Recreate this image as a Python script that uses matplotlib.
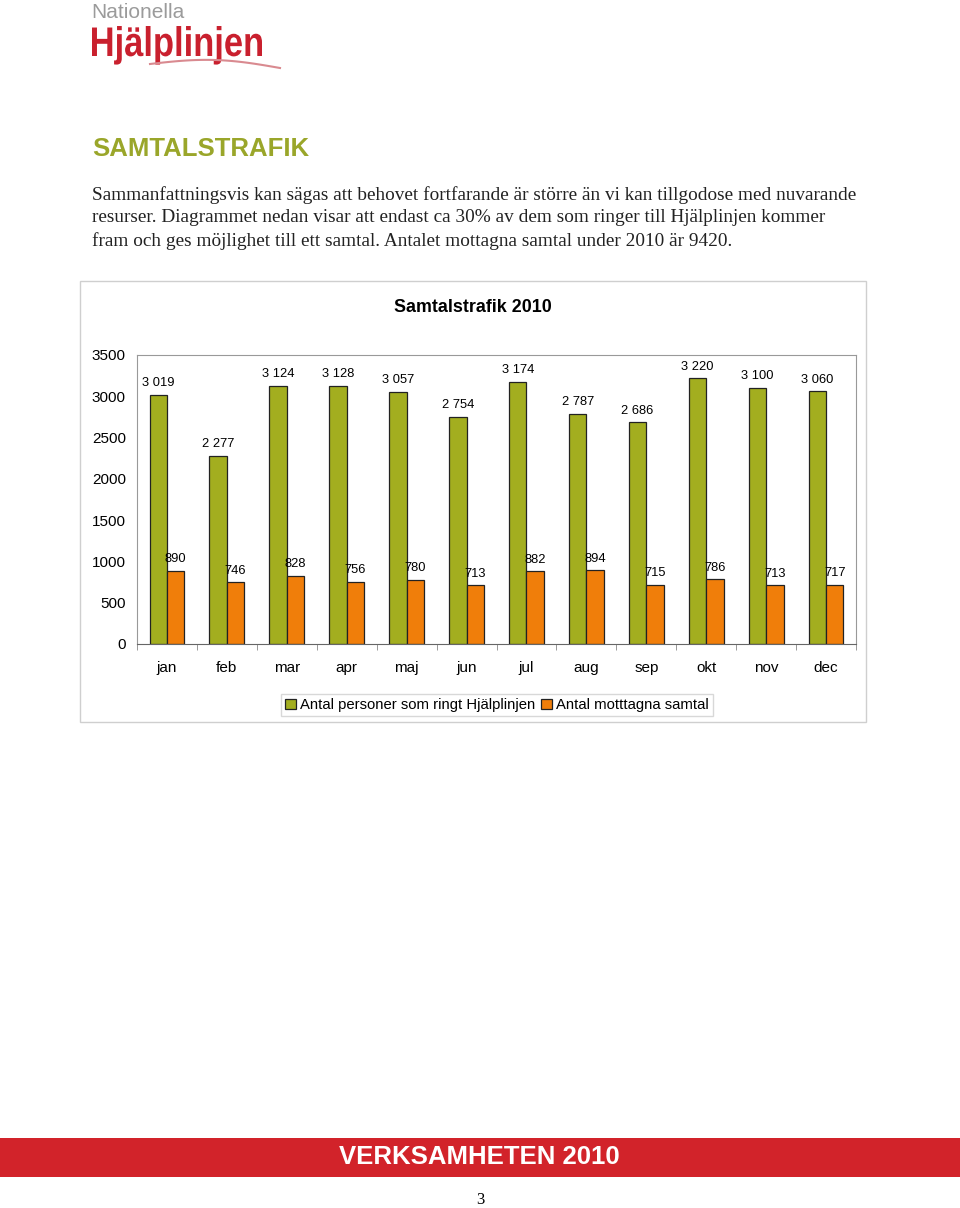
import numpy as np
import matplotlib.pyplot as plt
from matplotlib.patches import Rectangle, PathPatch
from matplotlib.textpath import TextPath
from matplotlib.font_manager import FontProperties
from matplotlib.transforms import Affine2D

# Data
months = ['jan', 'feb', 'mar', 'apr', 'maj', 'jun', 'jul', 'aug', 'sep', 'okt', 'nov', 'dec']
calls = [3019, 2277, 3124, 3128, 3057, 2754, 3174, 2787, 2686, 3220, 3100, 3060]
answered = [890, 746, 828, 756, 780, 713, 882, 894, 715, 786, 713, 717]
series_names = ['Antal personer som ringt Hjälplinjen', 'Antal motttagna samtal']

green = '#A3AE1F'
orange = '#F07E0A'
sans = 'Liberation Sans'
serif = 'Liberation Serif'

W, H = 960, 1208
fig = plt.figure(figsize=(W / 100, H / 100), dpi=100)


def fx(px):
    return px / W


def fy(py):
    return 1 - py / H


# Logo
fig.text(fx(91), fy(12), 'Nationella', fontsize=15, color='#9b9b9b',
         family=sans, va='center', ha='left')
tp = TextPath((0, 0), 'Hjälplinjen', size=40, prop=FontProperties(family=sans, weight='bold'))
ext = tp.get_extents()
sx = 170 / ext.width
sy = 30 / 29.0
logo_tr = (Affine2D().translate(-ext.x0, 0).scale(sx / W, sy / H)
           .translate(fx(92), fy(56)) + fig.transFigure)
fig.patches.append(PathPatch(tp, transform=logo_tr, color='#C9202E', lw=0))
t = np.linspace(0, 1, 50)
fig.lines.append(plt.Line2D(fx(150 + 130 * t), fy(64 - 6 * np.sin(np.pi * t) + 4 * t),
                            transform=fig.transFigure, color='#d98a90', lw=1.5))

# Heading and body text
fig.text(fx(92), fy(149), 'SAMTALSTRAFIK', fontsize=18.5, fontweight='bold',
         color='#9AA62A', family=sans, va='center', ha='left')
body = ['Sammanfattningsvis kan sägas att behovet fortfarande är större än vi kan tillgodose med nuvarande',
        'resurser. Diagrammet nedan visar att endast ca 30% av dem som ringer till Hjälplinjen kommer',
        'fram och ges möjlighet till ett samtal. Antalet mottagna samtal under 2010 är 9420.']
for i, line in enumerate(body):
    fig.text(fx(92), fy(195 + 23 * i), line, fontsize=13.9, family=serif,
             color='#222222', va='center', ha='left')

# Chart frame
fig.patches.append(Rectangle((fx(80), fy(722)), fx(866) - fx(80), fy(281) - fy(722),
                             transform=fig.transFigure, fill=False,
                             edgecolor='#cfcfcf', lw=1))
fig.text(fx(473), fy(307), 'Samtalstrafik 2010', fontsize=12.9, fontweight='bold',
         family=sans, ha='center', va='center')

ax = fig.add_axes([fx(137), fy(644), fx(856) - fx(137), fy(355) - fy(644)])
x = np.arange(len(months))
w = 0.29
b1 = ax.bar(x - w / 2, calls, w, color=green, edgecolor='#222222', lw=0.9,
            label=series_names[0])
b2 = ax.bar(x + w / 2, answered, w, color=orange, edgecolor='#222222', lw=0.9,
            label=series_names[1])
ax.bar_label(b1, labels=[f'{v // 1000} {v % 1000:03d}' for v in calls],
             padding=4, fontsize=9.3, family=sans)
ax.bar_label(b2, labels=[str(v) for v in answered], padding=4, fontsize=9.3, family=sans)

ax.set_xlim(-0.5, len(months) - 0.5)
ax.set_ylim(0, 3500)
ax.set_yticks(range(0, 3501, 500))
ax.set_xticks(x)
ax.set_xticklabels(months, fontsize=11, family=sans)
ax.tick_params(axis='x', length=0, pad=12)
ax.tick_params(axis='y', labelsize=11, length=0, pad=8)
for lab in ax.get_yticklabels():
    lab.set_family(sans)
ax.set_xticks(np.arange(-0.5, len(months)), minor=True)
ax.tick_params(axis='x', which='minor', length=4, color='#888888')
for s in ['top', 'right', 'left']:
    ax.spines[s].set_color('#999999')
ax.spines['bottom'].set_color('#666666')

leg = fig.legend(loc='center', bbox_to_anchor=(fx(497), fy(705)), ncol=2,
                 prop={'family': sans, 'size': 10.7}, frameon=True, fancybox=False,
                 edgecolor='#cfcfcf', handlelength=0.7, handleheight=0.7,
                 handletextpad=0.3, columnspacing=0.4, borderpad=0.3)

# Footer band
fig.patches.append(Rectangle((0, fy(1177)), 1, fy(1138) - fy(1177),
                             transform=fig.transFigure, color='#D2232A', lw=0))
fig.text(fx(479), fy(1157), 'VERKSAMHETEN 2010', fontsize=18.5, fontweight='bold',
         color='white', family=sans, ha='center', va='center')
fig.text(fx(480), fy(1200), '3', fontsize=12, family=serif, ha='center', va='center')

fig.savefig('out.png', dpi=100)
